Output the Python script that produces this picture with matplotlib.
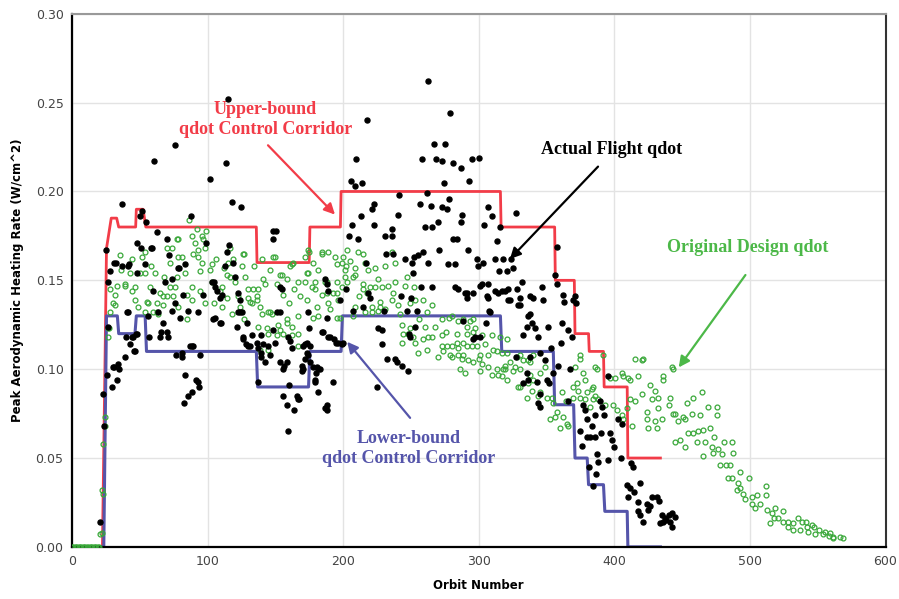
import numpy as np
import matplotlib
matplotlib.use('Agg')
import matplotlib.pyplot as plt

# corridor step lines (orbit, W/cm^2)
upper_x = [0, 22.5, 24.5, 25.5, 29, 33, 34.5, 47, 47.5, 52.5, 54.5, 136, 136.5, 175, 175.5,
           198, 198.5, 316, 316.5, 356, 356.5, 370.5, 371, 381, 381.5, 392, 392.5, 409.5, 410, 434]
upper_y = [0, 0, 0.11, 0.168, 0.185, 0.185, 0.18, 0.18, 0.19, 0.19, 0.18, 0.18, 0.16, 0.16, 0.18,
           0.18, 0.20, 0.20, 0.18, 0.18, 0.15, 0.15, 0.12, 0.12, 0.11, 0.11, 0.09, 0.09, 0.05, 0.05]

lower_x = [0, 23.5, 25.5, 33.5, 34.5, 46.5, 47.5, 54, 55, 136, 137, 174.5, 175.5, 198.5, 199.5,
           316, 317, 355, 356, 370, 371, 380, 381, 392, 393, 409.5, 410, 434]
lower_y = [0, 0, 0.13, 0.13, 0.12, 0.12, 0.13, 0.13, 0.11, 0.11, 0.09, 0.09, 0.11, 0.11, 0.13,
           0.13, 0.11, 0.11, 0.08, 0.08, 0.05, 0.05, 0.035, 0.035, 0.02, 0.02, 0, 0]

# actual flight qdot
flight_early = [
    (20.7, 0.014), (22.6, 0.086), (23.8, 0.068), (25.8, 0.097), (29.5, 0.09), (30.3, 0.101),
    (33, 0.094), (34.5, 0.1), (39, 0.107), (41.3, 0.132), (42.8, 0.114), (44, 0.118),
    (45.8, 0.11), (47, 0.12), (25, 0.167), (28, 0.155), (31, 0.16), (37, 0.193), (42, 0.159),
    (48, 0.171), (51, 0.168), (51.6, 0.189), (50.5, 0.186), (54.6, 0.183), (58.5, 0.168),
    (26.6, 0.149), (26.6, 0.124), (32.5, 0.16), (37, 0.158), (41.3, 0.158), (48, 0.154),
    (53.9, 0.159), (40.6, 0.132), (56, 0.13), (45, 0.118), (48, 0.12), (40, 0.118),
    (46.5, 0.11), (31, 0.101), (34, 0.103), (57, 0.118), (59.8, 0.144), (59, 0.168),
]
flight_mid1 = [
    (60.6, 0.217), (62.5, 0.177), (70, 0.173), (71.6, 0.164), (76, 0.226), (79, 0.157),
    (87.8, 0.186), (96.7, 0.142), (98.9, 0.171), (101.8, 0.207), (104.8, 0.149), (113.6, 0.216),
    (115, 0.252), (116, 0.17), (118, 0.194), (124.7, 0.191), (113, 0.158), (114, 0.166),
    (63.5, 0.132), (73.8, 0.133), (79.7, 0.129), (85.6, 0.133), (93, 0.132), (104, 0.128),
    (110, 0.126), (122.5, 0.132), (125.5, 0.132), (121.8, 0.124), (129, 0.126), (67, 0.126),
    (70, 0.121), (65, 0.118), (88.6, 0.113), (126, 0.117), (130, 0.113), (81, 0.109),
    (73.8, 0.151), (68.6, 0.149), (81.9, 0.142), (107, 0.144), (109, 0.14), (110.7, 0.142),
    (122.5, 0.143), (124, 0.139), (76, 0.137), (78, 0.157), (83.4, 0.159), (103.3, 0.149),
    (105.5, 0.146), (118.8, 0.16), (120.3, 0.152), (66, 0.121), (71, 0.118), (77, 0.108),
    (81, 0.107), (87, 0.113), (89, 0.113), (94.5, 0.108), (83.4, 0.097), (91.5, 0.094),
    (93, 0.093), (88.6, 0.087), (93.7, 0.09), (85.6, 0.085), (82.6, 0.081), (109, 0.126),
    (105.5, 0.129), (124, 0.132), (128.4, 0.114), (126, 0.118), (132.8, 0.119), (131.4, 0.113),
]
flight_mid2 = [
    (136.5, 0.115), (139.5, 0.109), (141, 0.114), (144.6, 0.113), (142.4, 0.104), (146, 0.108),
    (137, 0.093), (139.5, 0.119), (139.5, 0.107), (137, 0.112), (148, 0.178), (150.5, 0.178),
    (148, 0.173), (153.5, 0.146), (155, 0.145), (151, 0.132), (153.5, 0.132), (148, 0.122),
    (150, 0.115), (153.5, 0.104), (155.7, 0.1), (156.5, 0.102), (158.7, 0.104), (159.4, 0.118),
    (161, 0.116), (162, 0.112), (155.7, 0.085), (158.7, 0.08), (159.4, 0.065), (160, 0.091),
    (163.8, 0.077), (166, 0.085), (166.8, 0.083), (169.7, 0.102), (170.5, 0.1), (172, 0.106),
    (173.4, 0.109), (177.9, 0.101), (179.3, 0.094), (180.8, 0.101), (181.5, 0.087), (183, 0.1),
    (186.7, 0.078), (188, 0.08), (188, 0.077), (192.6, 0.093), (185, 0.121), (190.4, 0.118),
    (194.8, 0.115), (200, 0.115), (173.4, 0.115), (175, 0.123), (174, 0.132), (188, 0.148),
    (186.7, 0.151), (188, 0.129), (170.5, 0.113), (175.6, 0.113), (174, 0.108),
    (169.7, 0.099), (180, 0.098), (175.6, 0.104), (193, 0.117), (196, 0.115),
]
flight_peak = [
    (204, 0.175), (206.6, 0.181), (209.6, 0.218), (206, 0.206), (208.8, 0.203), (207.4, 0.133),
    (262.7, 0.262), (279, 0.244), (217.7, 0.24), (267, 0.227), (275, 0.227), (258, 0.218),
    (268.6, 0.218), (273, 0.217), (281, 0.216), (287, 0.213), (295, 0.218), (300, 0.219),
    (293, 0.206), (274.5, 0.205), (214, 0.205), (241, 0.198), (262, 0.199), (256.8, 0.193),
    (265, 0.192), (273, 0.191), (278, 0.196), (276.7, 0.19), (222.9, 0.193), (221.4, 0.19),
    (213, 0.186), (240.6, 0.187), (270, 0.183), (287, 0.183), (287.8, 0.187), (222.9, 0.181),
    (236, 0.179), (260.5, 0.18), (265.7, 0.18), (304, 0.181), (310, 0.186), (307, 0.191),
    (211, 0.173), (231, 0.175), (236, 0.175), (281, 0.173), (284, 0.173), (292, 0.167),
    (231.7, 0.165), (237, 0.165), (245.8, 0.162), (251, 0.16), (252.4, 0.163), (255.4, 0.164),
    (259, 0.166), (262.7, 0.16), (271, 0.167), (277.5, 0.159), (282.7, 0.159), (299, 0.162),
    (299.6, 0.158), (303, 0.16), (251.7, 0.154), (217, 0.16), (202, 0.145), (189, 0.144),
    (257.6, 0.146), (265.7, 0.146), (285, 0.145), (291.5, 0.143), (291, 0.14), (301, 0.147),
    (307, 0.148), (307, 0.14), (242.8, 0.141), (250, 0.14), (220, 0.14), (218.5, 0.143),
    (197.8, 0.139), (214.8, 0.135), (230, 0.133), (247, 0.133), (254.6, 0.133), (225.8, 0.123),
    (228.8, 0.122), (228.8, 0.114), (248.7, 0.12), (253, 0.124), (249.4, 0.118), (297.4, 0.118),
    (301, 0.118), (305.5, 0.126), (307.7, 0.133), (184.5, 0.121), (189, 0.118), (199, 0.114),
    (172, 0.114), (181.5, 0.1), (179.3, 0.093), (167.5, 0.083), (232.5, 0.106), (238, 0.106),
    (240, 0.104), (243.5, 0.102), (248, 0.099), (225, 0.09), (282.7, 0.146), (290, 0.143),
    (302.6, 0.148), (288.6, 0.127), (296, 0.117), (296, 0.143), (306, 0.141),
]
flight_late = [
    (327.7, 0.188), (316, 0.18), (313.7, 0.172), (358, 0.169), (312, 0.162), (318, 0.162),
    (324, 0.162), (325.5, 0.157), (321, 0.155), (315, 0.155), (356.5, 0.153), (358, 0.148),
    (312, 0.144), (317, 0.144), (321.8, 0.145), (328.4, 0.145), (332, 0.149), (347, 0.146),
    (323, 0.139), (330.6, 0.14), (329, 0.136), (338, 0.141), (340, 0.14), (347.6, 0.139),
    (362.4, 0.142), (363, 0.138), (369.7, 0.139), (371, 0.141), (371.9, 0.137), (336.5, 0.13),
    (339.5, 0.126), (335.8, 0.124), (341.7, 0.123), (351, 0.124), (361.6, 0.126), (366, 0.122),
    (369, 0.118), (361, 0.115), (332.8, 0.119), (353.5, 0.112), (327.7, 0.107), (308.5, 0.132),
    (314, 0.143), (319.6, 0.144), (321.8, 0.139), (330.6, 0.136), (338, 0.131), (344, 0.118),
    (338, 0.107), (345.4, 0.109), (349, 0.105), (355, 0.098), (350.5, 0.094), (345.4, 0.086),
    (344, 0.081), (345.4, 0.079), (335.8, 0.098), (336.5, 0.094), (332.8, 0.092), (358.7, 0.102),
    (367.5, 0.1), (352, 0.092), (343, 0.093), (395.6, 0.096), (366, 0.082), (377, 0.08),
    (378.6, 0.077), (391, 0.079), (392.6, 0.074), (389.7, 0.082), (380, 0.072), (386, 0.074),
    (403, 0.072), (406, 0.069), (383.8, 0.068), (375, 0.065), (380, 0.062), (382, 0.062),
    (386, 0.062), (390.4, 0.064), (397, 0.064), (398.5, 0.06), (400, 0.056), (376, 0.057),
    (387.5, 0.052), (388, 0.048), (395, 0.049), (405, 0.05), (412, 0.047), (414, 0.045),
    (381.5, 0.045), (386.7, 0.041), (384.5, 0.034), (409.6, 0.035), (411.8, 0.033), (419, 0.036),
    (414.8, 0.031), (410.3, 0.028), (431.7, 0.028), (433, 0.026), (428, 0.028), (417.7, 0.025),
    (424, 0.024), (426.6, 0.023), (425, 0.021), (417.7, 0.02), (419, 0.018), (421, 0.014),
    (435, 0.018), (437.6, 0.016), (440, 0.018), (441, 0.014), (442.8, 0.019), (445, 0.017),
    (442.8, 0.011), (434, 0.0135), (436, 0.014), (438, 0.015),
]

# original design qdot
design_start = [
    (0, 0), (1, 0), (2, 0), (3, 0), (4, 0), (5, 0), (6, 0), (7, 0), (8, 0), (9, 0), (10, 0),
    (11, 0), (12, 0), (13, 0), (14, 0), (15, 0), (16, 0), (17, 0), (18, 0), (19, 0), (20, 0),
    (20.7, 0.007), (22, 0.008), (22.8, 0.03), (22, 0.032), (23, 0.058), (24.3, 0.068),
    (24.3, 0.073), (26.6, 0.118), (27.3, 0.123),
]
design_rise = [
    (28, 0.145), (31.7, 0.136), (39, 0.148), (48.7, 0.135), (44, 0.144), (56, 0.137),
    (62.7, 0.132), (67, 0.136), (65, 0.143), (72, 0.146), (85, 0.142), (94.5, 0.144),
    (86.3, 0.184), (92, 0.179), (98.9, 0.178), (78, 0.173), (70, 0.168), (51.6, 0.163),
    (35.4, 0.164), (89.3, 0.165), (93, 0.167), (77.5, 0.173), (88.6, 0.175), (96, 0.175),
    (73.8, 0.168), (81, 0.163), (93, 0.163), (53.9, 0.166), (96, 0.16), (42.8, 0.154),
    (50, 0.154), (53.9, 0.154), (61, 0.154), (67.9, 0.152), (77.5, 0.152), (83.4, 0.154),
    (94.5, 0.155), (33, 0.147), (39, 0.147), (46.5, 0.146), (57.6, 0.146), (76, 0.146),
    (88.6, 0.146), (30.3, 0.137), (46.5, 0.139), (55.4, 0.138), (67, 0.141), (70, 0.141),
    (74.5, 0.141), (88.6, 0.139), (98, 0.137), (54, 0.132), (59.8, 0.132), (63.5, 0.131),
    (62.7, 0.137), (78, 0.135), (28, 0.132), (26.6, 0.123), (90.8, 0.171), (96.7, 0.173),
    (98, 0.168), (78, 0.163), (72, 0.16), (58, 0.158), (44, 0.162), (36, 0.156), (32, 0.142),
    (85, 0.128),
]
design_plateau = [
    (103.3, 0.159), (101.8, 0.156), (116.6, 0.168), (126, 0.165), (150, 0.163), (153.5, 0.153),
    (158.7, 0.151), (162, 0.159), (114.4, 0.153), (116.6, 0.152), (141, 0.151), (142.4, 0.148),
    (151, 0.148), (110.7, 0.146), (130, 0.145), (133.6, 0.145), (137, 0.145), (136.5, 0.141),
    (130, 0.14), (122.5, 0.141), (110.7, 0.135), (124, 0.135), (132.8, 0.137), (138.7, 0.135),
    (144.6, 0.132), (147.6, 0.131), (158.7, 0.128), (162, 0.124), (137, 0.124), (144, 0.123),
    (144.6, 0.12), (151, 0.119), (153.5, 0.122), (155.7, 0.12), (138.7, 0.111), (144.6, 0.111),
    (115, 0.16), (125.5, 0.158), (118.8, 0.162), (127, 0.165), (148, 0.163), (172, 0.163),
    (174, 0.167), (184.5, 0.165), (189, 0.166), (194, 0.163), (163, 0.16), (161, 0.158),
    (155, 0.153), (173.4, 0.154), (179.3, 0.149), (188, 0.149), (195.6, 0.149), (178, 0.16),
    (103, 0.149), (109, 0.144), (114, 0.14), (131.4, 0.138), (136.5, 0.139), (140, 0.131),
    (146, 0.132), (152, 0.125), (158.7, 0.126), (162.4, 0.119), (166.8, 0.113), (166.8, 0.12),
    (180.8, 0.135), (181.5, 0.13), (188, 0.143), (195.6, 0.143), (197.8, 0.129), (166.8, 0.149),
    (172, 0.149), (177, 0.146), (186.7, 0.149), (179.3, 0.145), (184.5, 0.142), (192.6, 0.143),
    (173.4, 0.139), (189, 0.137), (190.4, 0.134), (196, 0.139), (166.8, 0.13), (177.9, 0.129),
    (195.6, 0.129), (175, 0.166), (184.5, 0.166), (181.5, 0.156), (174, 0.154), (199, 0.146),
    (106, 0.162), (112, 0.157), (120, 0.149), (128, 0.152), (134, 0.158), (140, 0.162),
    (146, 0.156), (156, 0.142), (160, 0.137), (164, 0.145), (168, 0.141), (105, 0.137),
    (118, 0.131), (127, 0.128),
]
design_decline = [
    (200, 0.163), (202, 0.158), (195.6, 0.159), (201.5, 0.152), (207.4, 0.152), (203, 0.167),
    (211, 0.166), (214.8, 0.165), (223.6, 0.157), (231, 0.158), (236, 0.166), (238.4, 0.16),
    (199, 0.16), (205, 0.161), (209, 0.157), (216, 0.16), (201.5, 0.156), (209, 0.153),
    (218.5, 0.156), (203, 0.149), (214.8, 0.148), (220, 0.146), (223.6, 0.146), (228.8, 0.146),
    (238.4, 0.149), (245.8, 0.147), (214.8, 0.145), (217.7, 0.143), (237, 0.143), (209, 0.135),
    (221.4, 0.135), (227.3, 0.138), (236, 0.139), (227.3, 0.135), (225.8, 0.133), (231, 0.134),
    (240.6, 0.136), (249.4, 0.137), (253, 0.139), (259, 0.139), (265.7, 0.136), (207.4, 0.13),
    (216, 0.132), (221.4, 0.132), (243.5, 0.125), (249.4, 0.123), (248, 0.12), (251.7, 0.118),
    (244, 0.12), (273, 0.128), (278, 0.129), (280.4, 0.13), (284.9, 0.127), (288.6, 0.128),
    (293.7, 0.127), (260.5, 0.124), (262.7, 0.118), (259, 0.117), (265.7, 0.118), (273, 0.119),
    (291.5, 0.12), (297.4, 0.123), (243.5, 0.115), (253, 0.115), (273, 0.113), (276.7, 0.113),
    (280.4, 0.113), (284.9, 0.112), (291.5, 0.113), (295, 0.113), (299, 0.113), (310.7, 0.111),
    (270, 0.107), (280.4, 0.107), (288.6, 0.108), (302.6, 0.119), (310, 0.119), (296, 0.121),
    (288.6, 0.115), (284, 0.115), (279, 0.108), (285, 0.108), (287.8, 0.106), (292.3, 0.105),
    (296, 0.104), (302.6, 0.103), (307, 0.101), (313.7, 0.1), (318, 0.1), (286.3, 0.1),
    (290, 0.098), (301, 0.099), (310, 0.097), (317.3, 0.096), (319.6, 0.102), (313.7, 0.11),
    (307, 0.108), (301, 0.108), (315.8, 0.118), (296, 0.128), (291.5, 0.124), (284, 0.12),
    (273.8, 0.11), (212, 0.141), (226, 0.151), (233, 0.147), (242, 0.131), (256, 0.128),
    (262, 0.132), (268, 0.124), (276, 0.121), (255, 0.109), (262, 0.111), (300, 0.106),
    (305, 0.114), (247, 0.152), (252, 0.146),
    (325.5, 0.099), (330.6, 0.1), (338, 0.097), (340, 0.094), (329, 0.09), (335.8, 0.084),
    (344, 0.085), (350.5, 0.084), (355, 0.081), (358, 0.076), (362.4, 0.073), (365.3, 0.069),
    (352.8, 0.072), (360, 0.067), (321, 0.094), (323, 0.104), (332.8, 0.105), (338, 0.104),
    (340, 0.108), (328.4, 0.107), (321, 0.109), (321, 0.117), (369.7, 0.09), (373.4, 0.088),
    (378.6, 0.094), (384.5, 0.09), (380, 0.087), (375, 0.084), (382, 0.079), (386, 0.085),
    (375, 0.108), (387.5, 0.1), (317.3, 0.109), (330.6, 0.108), (336.5, 0.105), (327, 0.101),
    (319.6, 0.1), (314.4, 0.097), (345.4, 0.098), (349, 0.101), (330.6, 0.09), (336.5, 0.092),
    (339.5, 0.088), (345.4, 0.087), (354, 0.084), (361.6, 0.087), (364, 0.082), (369.7, 0.084),
    (378.6, 0.083), (384.5, 0.083), (388, 0.083), (393.4, 0.08), (399, 0.08), (402, 0.077),
    (406, 0.074), (406.6, 0.072), (413, 0.068), (356.5, 0.073), (366, 0.068), (372.7, 0.092),
    (383.8, 0.089), (371, 0.101), (386, 0.101), (377, 0.098), (392, 0.108), (397, 0.095),
    (400.7, 0.095), (375, 0.106),
]
design_tail = [
    (406.6, 0.096), (411.8, 0.094), (415.5, 0.106), (420.7, 0.105), (406, 0.098), (417.7, 0.096),
    (426.6, 0.091), (430, 0.088), (436, 0.096), (442.8, 0.101), (420.7, 0.086), (428, 0.083),
    (432.5, 0.084), (411.8, 0.083), (415.5, 0.082), (409.6, 0.078), (424, 0.076), (432.5, 0.078),
    (440, 0.08), (445, 0.075), (453.9, 0.081), (451, 0.073), (424, 0.072), (430, 0.071),
    (435, 0.072), (447, 0.071), (452, 0.072), (425, 0.067), (431.7, 0.067), (445, 0.059),
    (448.7, 0.06), (452, 0.056), (436, 0.094), (465, 0.087), (458, 0.084), (441, 0.084),
    (469, 0.079), (475.6, 0.079), (443.5, 0.075), (457.6, 0.075), (463.5, 0.074), (475.6, 0.074),
    (454.6, 0.064), (458.3, 0.064), (461.9, 0.065), (465.7, 0.066), (470.8, 0.067), (473.8, 0.062),
    (461, 0.059), (467, 0.059), (472.3, 0.056), (476.8, 0.055), (481, 0.059), (487, 0.059),
    (487.8, 0.053), (479.7, 0.052), (465.7, 0.051), (473, 0.053), (478, 0.046), (482, 0.046),
    (485.6, 0.046), (484, 0.039), (487, 0.039), (493, 0.042), (499, 0.039), (491.5, 0.036),
    (493, 0.033), (490.8, 0.032), (495, 0.03), (512, 0.034), (496.7, 0.027), (501.8, 0.028),
    (505.5, 0.029), (512, 0.029), (501.8, 0.024), (504, 0.022), (507.7, 0.024), (512.9, 0.021),
    (516.6, 0.019), (518.8, 0.022), (524.7, 0.02), (521, 0.016), (524.7, 0.014), (528.4, 0.014),
    (532, 0.0135), (535.8, 0.016), (538.7, 0.014), (542.4, 0.011), (547, 0.011), (550.6, 0.0096),
    (555.7, 0.0085), (559.4, 0.0079), (561.6, 0.0056), (566.8, 0.0056), (528.4, 0.011),
    (532, 0.0096), (537, 0.0096), (543, 0.0085), (548.3, 0.0073), (554, 0.0073), (558, 0.0062),
    (561, 0.005), (569, 0.005), (515, 0.0135), (517.4, 0.016), (541, 0.014), (546, 0.0124),
    (421, 0.106), (443, 0.1), (410.3, 0.095),
]

flight = np.array(flight_early + flight_mid1 + flight_mid2 + flight_peak + flight_late)
design = np.array(design_start + design_rise + design_plateau + design_decline + design_tail)

RED = '#f23c48'
BLUE = '#5555aa'
GREEN = '#3aa83a'

fig = plt.figure(figsize=(8.99, 5.99), dpi=100)
ax = fig.add_axes([0.080, 0.087, 0.905, 0.890])

ax.grid(True, color='#e3e3e3', linewidth=1.0)
ax.set_axisbelow(True)

ax.plot(design[:, 0], design[:, 1], 'o', ms=3.5, mfc='none', mec=GREEN, mew=0.9, zorder=3)
ax.plot(flight[:, 0], flight[:, 1], 'o', ms=3.6, color='black', zorder=4)
ax.plot(upper_x, upper_y, color=RED, lw=2, zorder=2)
ax.plot(lower_x, lower_y, color=BLUE, lw=2.2, zorder=2)

ax.set_xlim(0, 600)
ax.set_ylim(0, 0.30)
ax.set_xticks(np.arange(0, 601, 100))
ax.set_yticks(np.arange(0, 0.301, 0.05))
ax.yaxis.set_major_formatter(matplotlib.ticker.FormatStrFormatter('%.2f'))
ax.tick_params(length=0, labelsize=9, colors='#444444', pad=6)

for side in ['left', 'bottom']:
    ax.spines[side].set_color('black')
    ax.spines[side].set_linewidth(1.6)
ax.spines['top'].set_color('#999999')
ax.spines['top'].set_linewidth(1.5)
ax.spines['right'].set_color('#333333')
ax.spines['right'].set_linewidth(1.5)

ax.set_xlabel('Orbit Number', fontsize=8.5, fontweight='bold', labelpad=8)
ax.set_ylabel('Peak Aerodynamic Heating Rate (W/cm^2)', fontsize=8.5, fontweight='bold', labelpad=8)

serif = dict(family='Liberation Serif', fontweight='bold', fontsize=13, ha='center', va='center')
arrow = dict(arrowstyle='-|>', lw=1.6, mutation_scale=16, shrinkA=0, shrinkB=0)

ax.text(142.5, 0.2405, 'Upper-bound\nqdot Control Corridor', color=RED, linespacing=1.25, **serif)
ax.annotate('', xy=(194, 0.187), xytext=(144.6, 0.226), arrowprops=dict(color=RED, **arrow))

ax.text(397.8, 0.2235, 'Actual Flight qdot', color='black', **serif)
ax.annotate('', xy=(323, 0.162), xytext=(388, 0.214), arrowprops=dict(color='black', **arrow))

ax.text(498, 0.1684, 'Original Design qdot', color='#4cb848', **serif)
ax.annotate('', xy=(447.5, 0.101), xytext=(496.7, 0.153), arrowprops=dict(color='#4cb848', **arrow))

ax.text(248, 0.0555, 'Lower-bound\nqdot Control Corridor', color=BLUE, linespacing=1.25, **serif)
ax.annotate('', xy=(203, 0.1154), xytext=(249.4, 0.0726), arrowprops=dict(color=BLUE, **arrow))

fig.savefig('out.png', dpi=100)
